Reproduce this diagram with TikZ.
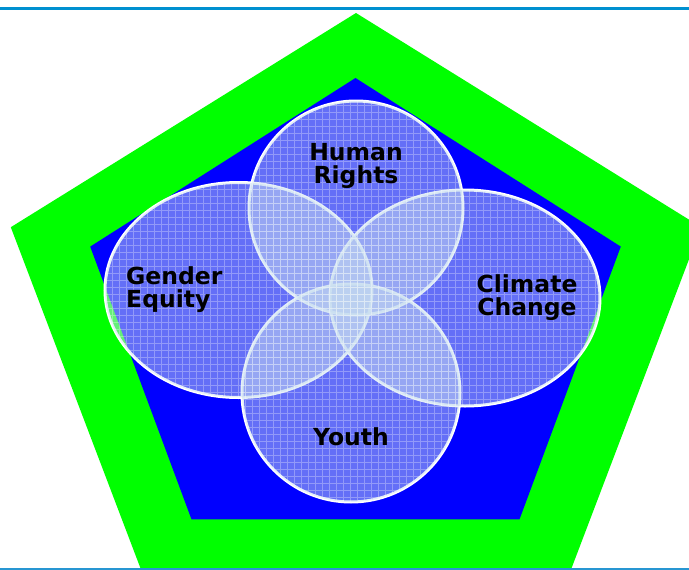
\documentclass[tikz,border=0pt]{standalone}
\usepackage{fontspec}
\setmainfont{DejaVu Sans}
\definecolor{topline}{RGB}{0,144,208}
\definecolor{botline}{RGB}{40,150,210}
\definecolor{pentgreen}{RGB}{0,255,0}
\definecolor{pentblue}{RGB}{0,0,255}
\definecolor{bubfill}{RGB}{200,222,240}
\tikzset{
  bubfillst/.style={fill=bubfill, fill opacity=0.5},
  bubline/.style={draw=white, line width=3pt},
  gridst/.style={draw=white, draw opacity=0.3, line width=0.9pt},
  lbl/.style={font=\fontsize{23.5}{23}\selectfont\bfseries, text=black, inner sep=0pt},
}
\begin{document}
\begin{tikzpicture}[x=1pt,y=-1pt]
\useasboundingbox (0,0) rectangle (689,570);
\fill[white] (0,0) rectangle (689,570);
\begin{scope}
\clip (0,0) rectangle (689,570);
% outer green pentagon
\fill[pentgreen] (356,13) -- (701.2,227.2) -- (569.4,573.8) -- (142.6,573.8) -- (10.8,227.2) -- cycle;
% inner blue pentagon
\fill[pentblue] (355.5,78) -- (620.8,246.6) -- (519.5,519.4) -- (191.5,519.4) -- (90.2,246.6) -- cycle;
\end{scope}
% rules
\draw[topline, line width=3pt] (0,8.5) -- (689,8.5);
\draw[botline, line width=2pt] (0,569) -- (689,569);
% outlines first (under the translucent fills)
\draw[bubline] (356,208) ellipse [x radius=107, y radius=107];
\draw[bubline] (465,298) ellipse [x radius=135, y radius=108];
\draw[bubline] (351,393) ellipse [x radius=109, y radius=109];
\draw[bubline] (238.5,290) ellipse [x radius=133.5, y radius=107.5];
% translucent fills with grid
\fill[bubfillst] (356,208) ellipse [x radius=107, y radius=107];
\begin{scope}
\clip (356,208) ellipse [x radius=107, y radius=107];
\draw[gridst, step=7pt] (245,98) grid (470,320);
\end{scope}
\fill[bubfillst] (465,298) ellipse [x radius=135, y radius=108];
\begin{scope}
\clip (465,298) ellipse [x radius=135, y radius=108];
\draw[gridst, step=7pt] (328,188) grid (603,409);
\end{scope}
\fill[bubfillst] (351,393) ellipse [x radius=109, y radius=109];
\begin{scope}
\clip (351,393) ellipse [x radius=109, y radius=109];
\draw[gridst, step=7pt] (240,282) grid (463,505);
\end{scope}
\fill[bubfillst] (238.5,290) ellipse [x radius=133.5, y radius=107.5];
\begin{scope}
\clip (238.5,290) ellipse [x radius=133.5, y radius=107.5];
\draw[gridst, step=7pt] (103,180) grid (375,400);
\end{scope}
% labels (base anchor = baseline of the last line)
\node[lbl, align=center, anchor=base] (hr) at (356,183) {Human\\Rights};
\node[lbl, align=left, anchor=base west] (ge) at (126,307) {Gender\\Equity};
\node[lbl, align=center, anchor=base] (cc) at (527,315) {Climate\\Change};
\node[lbl, align=center, anchor=base] (yo) at (351,445) {Youth};
\end{tikzpicture}
\end{document}
